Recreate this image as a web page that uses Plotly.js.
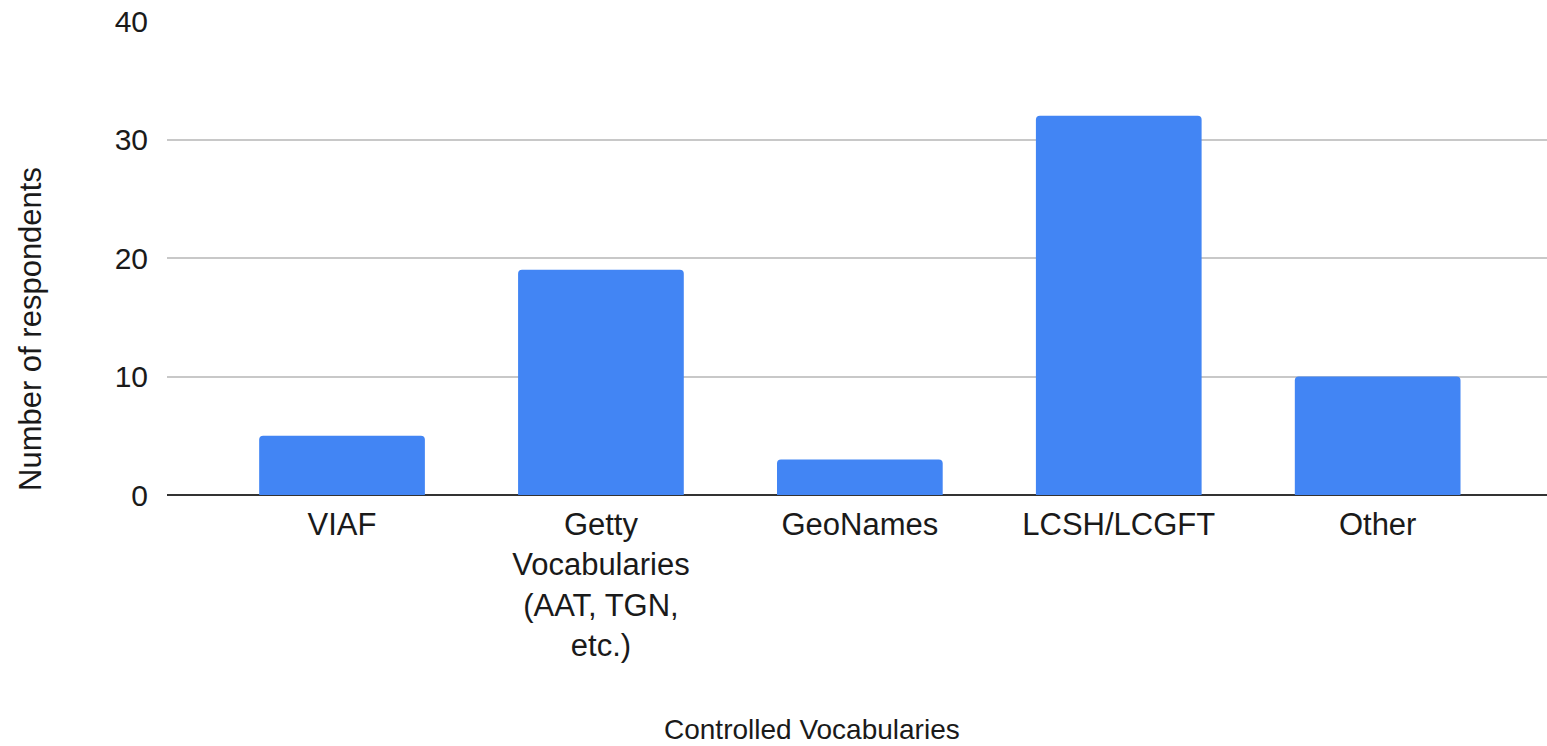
<!DOCTYPE html>
<html>
<head>
<meta charset="utf-8">
<script src="https://cdn.plot.ly/plotly-3.0.1.min.js"></script>
<style>html,body{margin:0;padding:0;background:#fff;}#chart{width:1547px;height:746px;}</style>
</head>
<body>
<div id="chart"></div>
<script>
const categories = ["VIAF", "Getty<br>Vocabularies<br>(AAT, TGN,<br>etc.)", "GeoNames", "LCSH/LCGFT", "Other"];
const respondents = [5, 19, 3, 32, 10];
const yTickVals = [0, 10, 20, 30, 40];
const xTitle = "Controlled Vocabularies";
const yTitle = "Number of respondents";

const FONT = "Liberation Sans, Arial, sans-serif";
const W = 1547, H = 746;
const mL = 167, mR = 0, mT = 21, mB = 251;
const plotW = W - mL - mR, plotH = H - mT - mB;

const trace = {
  type: "bar",
  x: categories,
  y: respondents,
  marker: {color: "#4285F4", cornerradius: 4},
  hoverinfo: "x+y"
};

const layout = {
  width: W, height: H,
  margin: {l: mL, r: mR, t: mT, b: mB, pad: 0},
  paper_bgcolor: "#ffffff",
  plot_bgcolor: "#ffffff",
  font: {family: FONT, color: "#1a1a1a", size: 31},
  bargap: 0.36,
  showlegend: false,
  xaxis: {
    type: "category",
    range: [-0.676, 4.654],
    showgrid: false,
    zeroline: false,
    showline: false,
    ticks: "",
    ticklabelstandoff: 8,
    tickfont: {family: FONT, size: 31, color: "#1a1a1a"},
    automargin: false,
    fixedrange: true
  },
  yaxis: {
    range: [0, 40],
    tickvals: yTickVals,
    ticktext: yTickVals.map(String),
    showgrid: true,
    gridcolor: "#c8c8c8",
    gridwidth: 2,
    zeroline: true,
    zerolinecolor: "#333333",
    zerolinewidth: 2,
    showline: false,
    ticks: "",
    ticklabelstandoff: 18,
    tickfont: {family: FONT, size: 30, color: "#1a1a1a"},
    automargin: false,
    fixedrange: true
  },
  annotations: [
    {
      text: xTitle, showarrow: false,
      xref: "paper", yref: "paper",
      x: (812 - mL) / plotW, y: (H - mB - 729) / plotH,
      xanchor: "center", yanchor: "middle", borderpad: 0,
      font: {family: FONT, size: 28, color: "#1a1a1a"}
    },
    {
      text: yTitle, showarrow: false, textangle: -90,
      xref: "paper", yref: "paper",
      x: (30 - mL) / plotW, y: (H - mB - 329) / plotH,
      xanchor: "center", yanchor: "middle",
      font: {family: FONT, size: 31, color: "#1a1a1a"}
    }
  ]
};

Plotly.newPlot("chart", [trace], layout, {displayModeBar: false, staticPlot: true});
</script>
</body>
</html>
